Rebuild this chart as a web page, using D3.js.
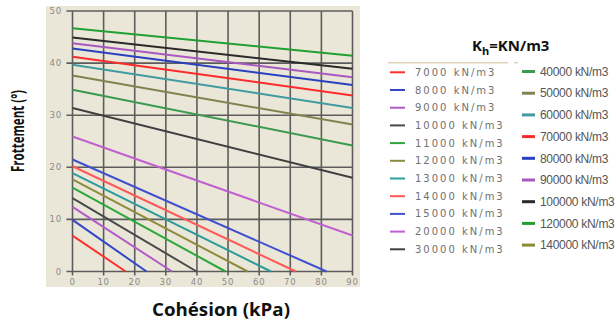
<!DOCTYPE html>
<html>
<head>
<meta charset="utf-8">
<script src="https://cdn.jsdelivr.net/npm/d3@7"></script>
<style>
  body { margin: 0; background: #fff; }
</style>
</head>
<body>
<script>
// Data
var khLabels = ["7000", "8000", "9000", "10000", "11000", "12000", "13000", "14000", "15000",
                "20000", "30000", "40000", "50000", "60000", "70000", "80000", "90000",
                "100000", "120000", "140000"];
// friction angle at c = 0
var phiStart = [6.9, 9.9, 12.4, 14.1, 16.1, 17.7, 18.9, 20.2, 21.5,
                25.9, 31.4, 34.9, 37.6, 39.7, 41.2, 42.8, 43.8, 44.9, 46.7, null];
// cohesion where the line stops
var cEnd = [17.1, 23.8, 32.0, 39.9, 49.2, 56.3, 63.8, 71.8, 81.7,
            90, 90, 90, 90, 90, 90, 90, 90, 90, 90, null];
// friction angle where the line stops
var phiEnd = [0, 0, 0, 0, 0, 0, 0, 0, 0,
              6.9, 18.0, 24.2, 28.2, 31.4, 33.8, 35.8, 37.3, 38.9, 41.4, null];
var colors = ["#ff3030", "#3246c8", "#b25ac8", "#4a4a4a", "#2aa83a", "#8c8c3c", "#2a9c9c",
              "#ff5858", "#4050d0", "#c060d0", "#404040", "#3a9a50", "#828250", "#409aa0",
              "#ff2a2a", "#2a40c0", "#a858c0", "#2a2a2a", "#20a030", "#8a8a30"];
var xTicks = [0, 10, 20, 30, 40, 50, 60, 70, 80, 90];
var yTicks = [0, 10, 20, 30, 40, 50];

var width = 616,
    height = 325;

var svg = d3.select("body").append("svg")
    .attr("width", width)
    .attr("height", height);

var x = d3.scaleLinear().domain([0, 90]).range([72.5, 352.5]);
var y = d3.scaleLinear().domain([0, 50]).range([271.5, 11]);

// beige panel
svg.append("rect")
    .attr("x", 46).attr("y", 6)
    .attr("width", 314).attr("height", 281)
    .style("fill", "#ebe7d8");

// grid
svg.selectAll(".hgrid")
    .data(yTicks)
    .enter().append("line")
    .attr("x1", x(0) - 6).attr("x2", x(90))
    .attr("y1", function(d) { return y(d); })
    .attr("y2", function(d) { return y(d); })
    .style("stroke", "#5c5c5c")
    .style("stroke-width", 1.6);

svg.selectAll(".vgrid")
    .data(xTicks)
    .enter().append("line")
    .attr("x1", function(d) { return x(d); })
    .attr("x2", function(d) { return x(d); })
    .attr("y1", y(50)).attr("y2", y(0) + 4)
    .style("stroke", "#5c5c5c")
    .style("stroke-width", 1.6);

// tick labels
svg.selectAll(".ylab")
    .data(yTicks)
    .enter().append("text")
    .attr("x", 62)
    .attr("y", function(d) { return y(d) + 3; })
    .attr("text-anchor", "end")
    .style("font-family", "DejaVu Sans")
    .style("font-size", "8.5px")
    .style("letter-spacing", "0.8px")
    .style("fill", "#8a8a8a")
    .text(function(d) { return d; });

svg.selectAll(".xlab")
    .data(xTicks)
    .enter().append("text")
    .attr("x", function(d) { return x(d); })
    .attr("y", 285)
    .attr("text-anchor", "middle")
    .style("font-family", "DejaVu Sans")
    .style("font-size", "8.5px")
    .style("letter-spacing", "0.8px")
    .style("fill", "#8a8a8a")
    .text(function(d) { return d; });

// the series lines
var series = khLabels.map(function(k, i) {
    return { kh: k, color: colors[i],
             pts: phiStart[i] == null ? [] : [[0, phiStart[i]], [cEnd[i], phiEnd[i]]] };
});

var line = d3.line()
    .x(function(d) { return x(d[0]); })
    .y(function(d) { return y(d[1]); });

svg.selectAll(".series")
    .data(series.filter(function(d) { return d.pts.length; }))
    .enter().append("path")
    .attr("d", function(d) { return line(d.pts); })
    .style("fill", "none")
    .style("stroke", function(d) { return d.color; })
    .style("stroke-width", 2);

// axis titles
svg.append("text")
    .attr("transform", "translate(24,131) rotate(-90)")
    .attr("text-anchor", "middle")
    .attr("textLength", 82)
    .attr("lengthAdjust", "spacingAndGlyphs")
    .style("font-family", "Open Sans")
    .style("font-weight", "bold")
    .style("font-size", "17px")
    .style("fill", "#111")
    .text("Frottement (°)");

svg.append("text")
    .attr("x", 221).attr("y", 316)
    .attr("text-anchor", "middle")
    .attr("textLength", 138)
    .attr("lengthAdjust", "spacingAndGlyphs")
    .style("font-family", "Open Sans")
    .style("font-weight", "bold")
    .style("font-size", "18px")
    .style("fill", "#111")
    .text("Cohésion (kPa)");

// legend
var title = svg.append("text")
    .attr("x", 472).attr("y", 51)
    .style("font-family", "Open Sans")
    .style("font-weight", "bold")
    .style("font-size", "15px")
    .style("fill", "#111");
title.append("tspan").text("K");
title.append("tspan").attr("dy", 4).style("font-size", "11px").text("h");
title.append("tspan").attr("dy", -4).text("=KN/m3");

svg.append("line")
    .attr("x1", 388).attr("x2", 508).attr("y1", 62.7).attr("y2", 62.7)
    .style("stroke", "#ddd3b6").style("stroke-width", 1.5);
svg.append("line")
    .attr("x1", 514).attr("x2", 518).attr("y1", 62.7).attr("y2", 62.7)
    .style("stroke", "#ddd3b6").style("stroke-width", 1.5);

var col1 = series.slice(0, 11),
    col2 = series.slice(11);

var leg1 = svg.selectAll(".leg1")
    .data(col1)
    .enter().append("g")
    .attr("transform", function(d, i) { return "translate(390," + (72.3 + i * 17.7) + ")"; });
leg1.append("line")
    .attr("x1", 0).attr("x2", 15)
    .style("stroke", function(d) { return d.color; })
    .style("stroke-width", 2);
leg1.append("text")
    .attr("x", 25).attr("y", 3.5)
    .style("font-family", "DejaVu Sans")
    .style("font-size", "10px")
    .style("letter-spacing", "2px")
    .style("fill", "#707070")
    .text(function(d) { return d.kh + " kN/m3"; });

var leg2 = svg.selectAll(".leg2")
    .data(col2)
    .enter().append("g")
    .attr("transform", function(d, i) { return "translate(522," + (71.5 + i * 21.7) + ")"; });
leg2.append("line")
    .attr("x1", 0).attr("x2", 13)
    .style("stroke", function(d) { return d.color; })
    .style("stroke-width", 3);
leg2.append("text")
    .attr("x", 18).attr("y", 4.2)
    .style("font-family", "Liberation Sans")
    .style("font-size", "12px")
    .style("letter-spacing", "-0.3px")
    .style("fill", "#555")
    .text(function(d) { return d.kh + " kN/m3"; });
</script>
</body>
</html>
